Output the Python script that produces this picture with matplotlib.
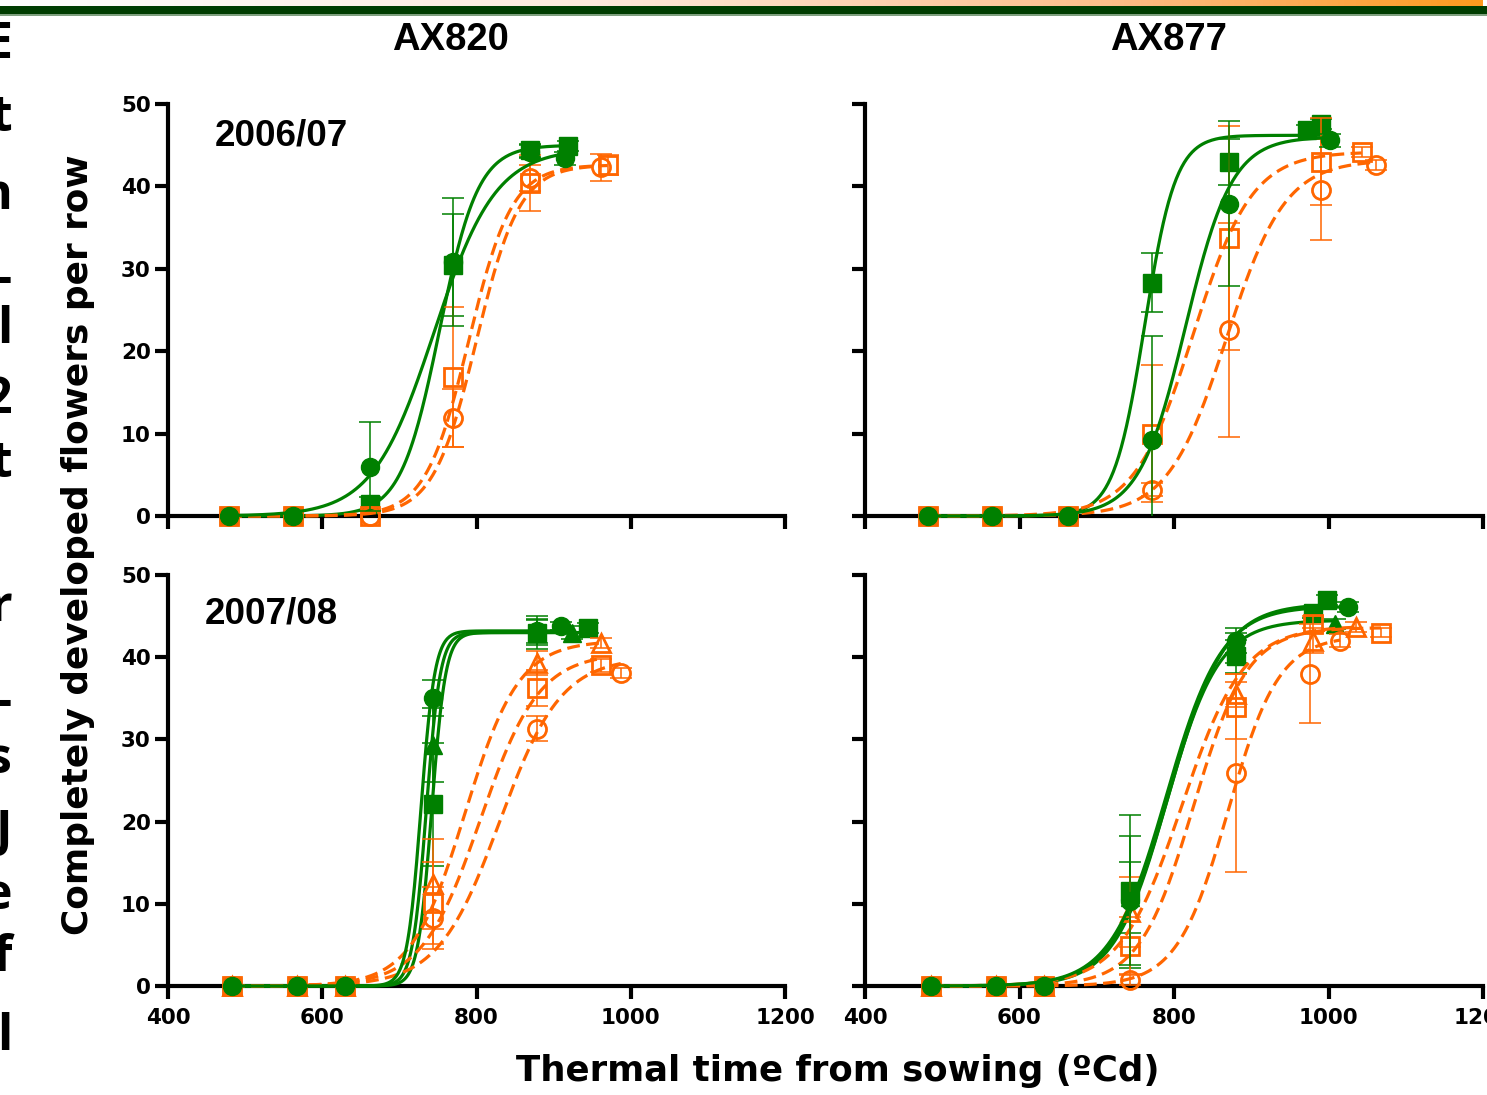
import numpy as np
import matplotlib
matplotlib.use('Agg')
import matplotlib.pyplot as plt
from matplotlib.patches import Rectangle
from matplotlib.colors import LinearSegmentedColormap

plt.rcParams['font.family'] = ['DejaVu Sans']
plt.rcParams['font.weight'] = 'bold'

GREEN = '#008000'
ORANGE = '#FF6600'

# fitted curves are stored as (top, mid point, slope)

# ---- AX820 2006/07 ----
a820_06_gc_x = [479, 562, 662, 770, 870, 915]
a820_06_gc_y = [0, 0, 6.0, 30.8, 44.2, 43.4]
a820_06_gc_e = [0, 0, 5.4, 7.8, 0.8, 0.8]
a820_06_gc_fit = [44.6, 745, 40]

a820_06_gs_x = [479, 562, 662, 770, 870, 919]
a820_06_gs_y = [0, 0, 1.5, 30.5, 44.4, 44.9]
a820_06_gs_e = [0, 0, 0.8, 6.2, 0.8, 0.6]
a820_06_gs_fit = [45.0, 752, 25]

a820_06_oc_x = [479, 562, 662, 770, 870, 961]
a820_06_oc_y = [0, 0, 0, 11.9, 41.0, 42.3]
a820_06_oc_e = [0, 0, 0, 3.5, 1.6, 1.6]
a820_06_oc_fit = [42.6, 800, 28]

a820_06_os_x = [479, 562, 662, 770, 870, 970]
a820_06_os_y = [0, 0, 0, 16.9, 40.4, 42.6]
a820_06_os_e = [0, 0, 0, 8.5, 3.4, 1.2]
a820_06_os_fit = [42.6, 790, 28]

# ---- AX877 2006/07 ----
a877_06_gc_x = [482, 564, 663, 771, 871, 1002]
a877_06_gc_y = [0, 0, 0, 9.2, 37.9, 45.6]
a877_06_gc_e = [0, 0, 0, 12.6, 10.0, 0.8]
a877_06_gc_fit = [46.0, 815, 30]

a877_06_gs_x = [482, 564, 663, 771, 871, 972, 990]
a877_06_gs_y = [0, 0, 0, 28.3, 43.0, 46.8, 47.6]
a877_06_gs_e = [0, 0, 0, 3.6, 2.8, 0.6, 0.6]
a877_06_gs_fit = [46.2, 762, 20]

a877_06_oc_x = [482, 564, 663, 771, 871, 990, 1062]
a877_06_oc_y = [0, 0, 0, 3.2, 22.6, 39.6, 42.6]
a877_06_oc_e = [0, 0, 0, 0.8, 13.0, 6.1, 0.6]
a877_06_oc_fit = [43.2, 868, 38]

a877_06_os_x = [482, 564, 663, 771, 871, 990, 1043]
a877_06_os_y = [0, 0, 0, 10.0, 33.7, 43.0, 44.2]
a877_06_os_e = [0, 0, 0, 8.3, 13.6, 5.3, 0.6]
a877_06_os_fit = [44.2, 825, 38]

# ---- AX820 2007/08 ----
a820_07_gc_x = [483, 567, 630, 743, 879, 909]
a820_07_gc_y = [0, 0, 0, 35.0, 43.2, 43.8]
a820_07_gc_e = [0, 0, 0, 2.2, 1.5, 0.5]
a820_07_gc_fit = [43.2, 728, 9]

a820_07_gt_x = [483, 567, 630, 743, 879, 924]
a820_07_gt_y = [0, 0, 0, 29.3, 43.0, 43.0]
a820_07_gt_e = [0, 0, 0, 4.5, 1.5, 0.8]
a820_07_gt_fit = [43.0, 735, 9]

a820_07_gs_x = [483, 567, 630, 743, 879, 944]
a820_07_gs_y = [0, 0, 0, 22.1, 43.0, 43.6]
a820_07_gs_e = [0, 0, 0, 7.5, 2.0, 0.6]
a820_07_gs_fit = [43.0, 742, 9]

a820_07_ot_x = [483, 567, 630, 743, 879, 962]
a820_07_ot_y = [0, 0, 0, 12.4, 39.3, 41.7]
a820_07_ot_e = [0, 0, 0, 5.5, 1.5, 0.6]
a820_07_ot_fit = [42.0, 785, 35]

a820_07_os_x = [483, 567, 630, 743, 879, 962]
a820_07_os_y = [0, 0, 0, 10.1, 36.3, 39.0]
a820_07_os_e = [0, 0, 0, 5.0, 2.2, 0.8]
a820_07_os_fit = [40.5, 805, 38]

a820_07_oc_x = [483, 567, 630, 743, 879, 987]
a820_07_oc_y = [0, 0, 0, 8.3, 31.3, 38.1]
a820_07_oc_e = [0, 0, 0, 3.8, 1.5, 0.6]
a820_07_oc_fit = [40.0, 830, 40]

# ---- AX877 2007/08 ----
a877_07_gc_x = [485, 570, 632, 743, 880, 1025]
a877_07_gc_y = [0, 0, 0, 10.4, 42.0, 46.1]
a877_07_gc_e = [0, 0, 0, 7.8, 1.5, 0.6]
a877_07_gc_fit = [46.2, 790, 36]

a877_07_gs_x = [485, 570, 632, 743, 880, 980, 998]
a877_07_gs_y = [0, 0, 0, 11.5, 40.1, 45.4, 47.0]
a877_07_gs_e = [0, 0, 0, 9.3, 2.0, 0.6, 0.6]
a877_07_gs_fit = [46.5, 793, 36]

a877_07_gt_x = [485, 570, 632, 743, 880, 1008]
a877_07_gt_y = [0, 0, 0, 10.8, 41.1, 44.0]
a877_07_gt_e = [0, 0, 0, 4.3, 1.8, 0.6]
a877_07_gt_fit = [44.5, 790, 34]

a877_07_ot_x = [485, 570, 632, 743, 880, 980, 1036]
a877_07_ot_y = [0, 0, 0, 9.0, 35.5, 42.0, 43.7]
a877_07_ot_e = [0, 0, 0, 4.3, 1.5, 1.5, 0.6]
a877_07_ot_fit = [43.8, 810, 40]

a877_07_os_x = [485, 570, 632, 743, 880, 980, 1068]
a877_07_os_y = [0, 0, 0, 4.9, 34.0, 44.0, 43.0]
a877_07_os_e = [0, 0, 0, 3.5, 4.0, 1.0, 0.6]
a877_07_os_fit = [43.6, 825, 35]

a877_07_oc_x = [485, 570, 632, 743, 880, 976, 1015]
a877_07_oc_y = [0, 0, 0, 0.7, 25.9, 38.0, 42.0]
a877_07_oc_e = [0, 0, 0, 0.6, 12.0, 6.0, 0.8]
a877_07_oc_fit = [42.6, 870, 33]

panel_titles = ['AX820', 'AX877']
season_labels = ['2006/07', '2007/08']
x_ticks = [400, 600, 800, 1000, 1200]
y_ticks = [0, 10, 20, 30, 40, 50]

# cropped slide text on the left edge
edge_chars = ['E', 't', 'n', '-', 'l', '2', 't', 'r', '-', 's', 'J', 'e', 'f', 'l']
edge_y = [45, 118, 196, 280, 330, 400, 464, 608, 703, 760, 833, 896, 958, 1037]


def logistic(x, top, mid, slope):
    return top / (1 + np.exp(-(np.asarray(x) - mid) / slope))


def draw_series(ax, x, y, e, fit, color, marker, filled, z):
    xs = np.linspace(x[0], x[-1], 300)
    if filled:
        ax.plot(xs, logistic(xs, *fit), color=color, lw=2.3, clip_on=False, zorder=z)
    else:
        ax.plot(xs, logistic(xs, *fit), color=color, lw=2.3, ls=(0, (4, 2)),
                clip_on=False, zorder=z)
    # error bars only where there is a spread
    ex = [a for a, b in zip(x, e) if b > 0]
    ey = [a for a, b in zip(y, e) if b > 0]
    ee = [b for b in e if b > 0]
    ax.errorbar(ex, ey, yerr=ee, fmt='none', ecolor=color, elinewidth=1.1,
                capsize=8, capthick=1.1, zorder=z + 0.1)
    if filled:
        ax.plot(x, y, ls='none', marker=marker, ms=13, mfc=color, mec=color,
                clip_on=False, zorder=z + 0.2)
    else:
        ax.plot(x, y, ls='none', marker=marker, ms=13, mfc='none', mec=color,
                mew=2.0, clip_on=False, zorder=z + 0.2)


W, H = 1487, 1095
fig = plt.figure(figsize=(W / 100, H / 100), dpi=100)

left_px = [168, 865]
right_px = [785, 1483]
top_px = [104, 575]
bottom_px = [516, 986]

axes = {}
for r in range(2):
    for c in range(2):
        ax = fig.add_axes([left_px[c] / W, 1 - bottom_px[r] / H,
                           (right_px[c] - left_px[c]) / W,
                           (bottom_px[r] - top_px[r]) / H])
        ax.set_xlim(400, 1200)
        ax.set_ylim(0, 50)
        ax.set_xticks(x_ticks)
        ax.set_yticks(y_ticks)
        for s in ['top', 'right']:
            ax.spines[s].set_visible(False)
        for s in ['left', 'bottom']:
            ax.spines[s].set_linewidth(3)
            ax.spines[s].set_zorder(1)
        ax.tick_params(direction='out', length=9.5, width=3, labelsize=15.5)
        ax.tick_params(axis='x', pad=6)
        ax.tick_params(axis='y', pad=3)
        if r == 0:
            ax.set_xticklabels([])
        if c == 1:
            ax.set_yticklabels([])
        axes[(r, c)] = ax

# orange first, green circles drawn last
ax = axes[(0, 0)]
draw_series(ax, a820_06_gs_x, a820_06_gs_y, a820_06_gs_e, a820_06_gs_fit, GREEN, 's', True, 3)
draw_series(ax, a820_06_os_x, a820_06_os_y, a820_06_os_e, a820_06_os_fit, ORANGE, 's', False, 4)
draw_series(ax, a820_06_oc_x, a820_06_oc_y, a820_06_oc_e, a820_06_oc_fit, ORANGE, 'o', False, 4)
draw_series(ax, a820_06_gc_x, a820_06_gc_y, a820_06_gc_e, a820_06_gc_fit, GREEN, 'o', True, 5)

ax = axes[(0, 1)]
draw_series(ax, a877_06_gs_x, a877_06_gs_y, a877_06_gs_e, a877_06_gs_fit, GREEN, 's', True, 3)
draw_series(ax, a877_06_os_x, a877_06_os_y, a877_06_os_e, a877_06_os_fit, ORANGE, 's', False, 4)
draw_series(ax, a877_06_oc_x, a877_06_oc_y, a877_06_oc_e, a877_06_oc_fit, ORANGE, 'o', False, 4)
draw_series(ax, a877_06_gc_x, a877_06_gc_y, a877_06_gc_e, a877_06_gc_fit, GREEN, 'o', True, 5)

ax = axes[(1, 0)]
draw_series(ax, a820_07_gs_x, a820_07_gs_y, a820_07_gs_e, a820_07_gs_fit, GREEN, 's', True, 3)
draw_series(ax, a820_07_gt_x, a820_07_gt_y, a820_07_gt_e, a820_07_gt_fit, GREEN, '^', True, 3)
draw_series(ax, a820_07_ot_x, a820_07_ot_y, a820_07_ot_e, a820_07_ot_fit, ORANGE, '^', False, 4)
draw_series(ax, a820_07_os_x, a820_07_os_y, a820_07_os_e, a820_07_os_fit, ORANGE, 's', False, 4)
draw_series(ax, a820_07_oc_x, a820_07_oc_y, a820_07_oc_e, a820_07_oc_fit, ORANGE, 'o', False, 4)
draw_series(ax, a820_07_gc_x, a820_07_gc_y, a820_07_gc_e, a820_07_gc_fit, GREEN, 'o', True, 5)

ax = axes[(1, 1)]
draw_series(ax, a877_07_gs_x, a877_07_gs_y, a877_07_gs_e, a877_07_gs_fit, GREEN, 's', True, 3)
draw_series(ax, a877_07_gt_x, a877_07_gt_y, a877_07_gt_e, a877_07_gt_fit, GREEN, '^', True, 3)
draw_series(ax, a877_07_ot_x, a877_07_ot_y, a877_07_ot_e, a877_07_ot_fit, ORANGE, '^', False, 4)
draw_series(ax, a877_07_os_x, a877_07_os_y, a877_07_os_e, a877_07_os_fit, ORANGE, 's', False, 4)
draw_series(ax, a877_07_oc_x, a877_07_oc_y, a877_07_oc_e, a877_07_oc_fit, ORANGE, 'o', False, 4)
draw_series(ax, a877_07_gc_x, a877_07_gc_y, a877_07_gc_e, a877_07_gc_fit, GREEN, 'o', True, 5)

# titles and labels
fig.text(450 / W, 1 - 40 / H, panel_titles[0], ha='center', va='center',
         fontsize=27.5, family='Liberation Sans', weight='bold')
fig.text(1168 / W, 1 - 40 / H, panel_titles[1], ha='center', va='center',
         fontsize=27.5, family='Liberation Sans', weight='bold')
fig.text(215 / W, 1 - 136 / H, season_labels[0], ha='left', va='center',
         fontsize=26.5, family='Liberation Sans', weight='bold')
fig.text(205 / W, 1 - 614 / H, season_labels[1], ha='left', va='center',
         fontsize=26.5, family='Liberation Sans', weight='bold')
fig.text(78 / W, 1 - 545 / H, 'Completely developed flowers per row', rotation=90,
         ha='center', va='center', fontsize=25.8, weight='bold')
fig.text(838 / W, 1 - 1071 / H, 'Thermal time from sowing (ºCd)', ha='center',
         va='center', fontsize=25.6, weight='bold')

# header bars of the slide
bar_ax = fig.add_axes([0, 1 - 6 / H, 1483 / W, 6 / H])
bar_ax.imshow(np.linspace(0, 1, 256)[None, :], aspect='auto',
              cmap=LinearSegmentedColormap.from_list(
                  'bar', [(0, '#FFFFFF'), (0.4, '#FFEADC'), (0.75, '#FFBE8A'), (1, '#FF9A1E')]))
bar_ax.axis('off')
fig.add_artist(Rectangle((0, 1 - 14 / H), 1, 8 / H, transform=fig.transFigure,
                         color='#003C00', lw=0))
fig.add_artist(Rectangle((0, 1 - 15.5 / H), 1, 1.5 / H, transform=fig.transFigure,
                         color='#7FA07F', lw=0))

for ch, yy in zip(edge_chars, edge_y):
    fig.text(12 / W, 1 - yy / H, ch, ha='right', va='center', fontsize=36,
             family='Open Sans', weight='bold')

fig.savefig('out.png', dpi=100)
